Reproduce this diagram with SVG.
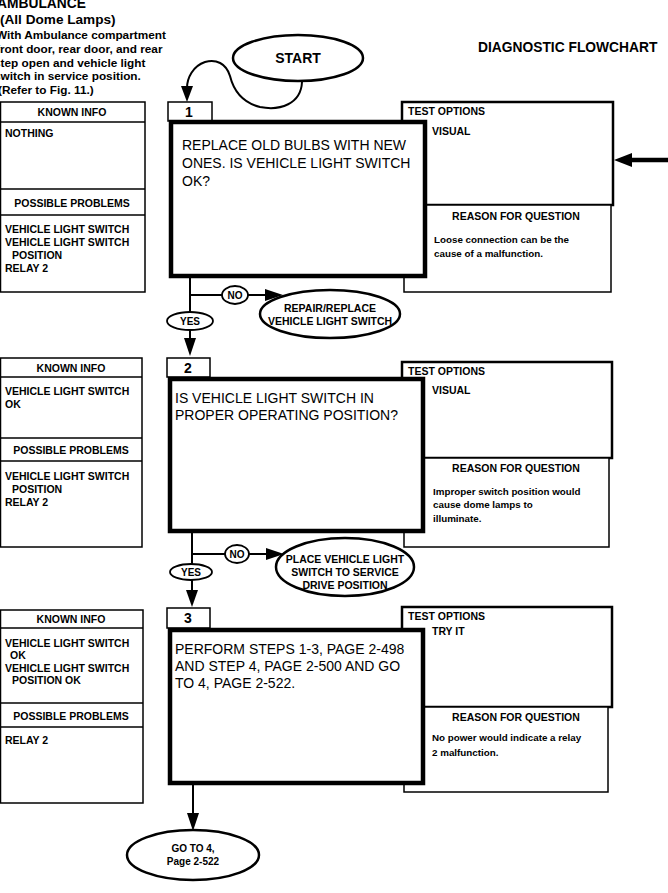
<svg xmlns="http://www.w3.org/2000/svg" width="668" height="893" viewBox="0 0 668 893">
<style>
text{font-family:"Liberation Sans",Arial,sans-serif;fill:#000}
.b{font-weight:bold}
.sm{font-size:10.5px;font-weight:bold}
.it{font-size:10.5px;font-weight:bold}
.rs{font-size:9.8px;font-weight:bold}
.hl{font-size:11.8px;font-weight:bold}
.q{font-size:14px}
.c{text-anchor:middle}
.thin{fill:#fff;stroke:#000;stroke-width:1.5}
.med{fill:#fff;stroke:#000;stroke-width:2.5}
.thick{fill:#fff;stroke:#000;stroke-width:4.5}
.ln{fill:none;stroke:#000;stroke-width:2}
.lbl{fill:#fff;stroke:#000;stroke-width:1.8}
.sep{stroke:#000;stroke-width:1.5}
</style>
<rect width="668" height="893" fill="#fff"/>

<g id="header">
<text x="-3" y="8" class="b" font-size="13.8">AMBULANCE</text>
<text x="0" y="24" class="b" font-size="13.6">(All Dome Lamps)</text>
<text x="-4" y="39" class="hl">With Ambulance compartment</text>
<text x="-4" y="53" class="hl">front door, rear door, and rear</text>
<text x="-6" y="67" class="hl">step open and vehicle light</text>
<text x="-6" y="80" class="hl">switch in service position.</text>
<text x="-2" y="94" class="hl">(Refer to Fig. 11.)</text>
<text x="478" y="52" class="b" font-size="13.8">DIAGNOSTIC FLOWCHART</text>
</g>

<g id="start">
<ellipse cx="298" cy="58" rx="65" ry="23" fill="#fff" stroke="#000" stroke-width="2.5"/>
<text x="298" y="63" class="b c" font-size="14">START</text>
</g>

<!-- Step 1 -->
<g id="info1">
<rect x="0.5" y="102" width="144.5" height="190" class="thin"/>
<line x1="0" y1="122" x2="145" y2="122" class="sep"/>
<line x1="0" y1="189" x2="145" y2="189" class="sep"/>
<line x1="0" y1="215" x2="145" y2="215" class="sep"/>
<text x="72" y="116" class="sm c">KNOWN INFO</text>
<text x="5" y="137" class="it">NOTHING</text>
<text x="72" y="207" class="sm c">POSSIBLE PROBLEMS</text>
<text x="5" y="233" class="it">VEHICLE LIGHT SWITCH</text>
<text x="5" y="246" class="it">VEHICLE LIGHT SWITCH</text>
<text x="12" y="259" class="it">POSITION</text>
<text x="5" y="272" class="it">RELAY 2</text>
</g>
<g id="test1">
<rect x="402" y="102" width="211" height="103" class="med"/>
<rect x="404" y="205" width="207" height="87" class="thin"/>
<text x="408" y="115" class="sm">TEST OPTIONS</text>
<text x="432" y="135" class="sm">VISUAL</text>
<text x="516" y="220" class="sm c">REASON FOR QUESTION</text>
<text x="434" y="243" class="rs">Loose connection can be the</text>
<text x="434" y="257" class="rs">cause of a malfunction.</text>
</g>
<g id="step1">
<rect x="168" y="102" width="44" height="19" class="thin"/>
<text x="189" y="117" class="b c" font-size="14">1</text>
<rect x="171" y="122" width="254" height="154" class="thick"/>
<text x="182" y="150" class="q">REPLACE OLD BULBS WITH NEW</text>
<text x="182" y="168" class="q">ONES. IS VEHICLE LIGHT SWITCH</text>
<text x="182" y="186" class="q">OK?</text>
</g>
<g id="repair">
<ellipse cx="330" cy="314" rx="70" ry="24" fill="#fff" stroke="#000" stroke-width="2.5"/>
<text x="330" y="312" class="sm c">REPAIR/REPLACE</text>
<text x="330" y="325" class="sm c">VEHICLE LIGHT SWITCH</text>
</g>

<!-- Step 2 -->
<g id="info2">
<rect x="0.5" y="358" width="141.5" height="189" class="thin"/>
<line x1="0" y1="377" x2="142" y2="377" class="sep"/>
<line x1="0" y1="438" x2="142" y2="438" class="sep"/>
<line x1="0" y1="461" x2="142" y2="461" class="sep"/>
<text x="71" y="372" class="sm c">KNOWN INFO</text>
<text x="5" y="395" class="it">VEHICLE LIGHT SWITCH</text>
<text x="5" y="408" class="it">OK</text>
<text x="71" y="454" class="sm c">POSSIBLE PROBLEMS</text>
<text x="5" y="480" class="it">VEHICLE LIGHT SWITCH</text>
<text x="12" y="493" class="it">POSITION</text>
<text x="5" y="506" class="it">RELAY 2</text>
</g>
<g id="test2">
<rect x="402" y="362" width="210" height="96" class="med"/>
<rect x="404" y="458" width="205" height="89" class="thin"/>
<text x="408" y="375" class="sm">TEST OPTIONS</text>
<text x="432" y="394" class="sm">VISUAL</text>
<text x="516" y="472" class="sm c">REASON FOR QUESTION</text>
<text x="433" y="495" class="rs">Improper switch position would</text>
<text x="433" y="508" class="rs">cause dome lamps to</text>
<text x="433" y="522" class="rs">illuminate.</text>
</g>
<g id="step2">
<rect x="167" y="358" width="43" height="19" class="thin"/>
<text x="188" y="373" class="b c" font-size="14">2</text>
<rect x="170" y="379" width="253" height="152" class="thick"/>
<text x="175" y="403" class="q">IS VEHICLE LIGHT SWITCH IN</text>
<text x="175" y="420" class="q">PROPER OPERATING POSITION?</text>
</g>
<g id="place">
<ellipse cx="345" cy="567" rx="69" ry="29" fill="#fff" stroke="#000" stroke-width="2.5"/>
<text x="345" y="563" class="sm c">PLACE VEHICLE LIGHT</text>
<text x="345" y="576" class="sm c">SWITCH TO SERVICE</text>
<text x="345" y="589" class="sm c">DRIVE POSITION</text>
</g>

<!-- Step 3 -->
<g id="info3">
<rect x="0.5" y="610" width="142.5" height="193" class="thin"/>
<line x1="0" y1="628" x2="143" y2="628" class="sep"/>
<line x1="0" y1="703" x2="143" y2="703" class="sep"/>
<line x1="0" y1="727" x2="143" y2="727" class="sep"/>
<text x="71" y="623" class="sm c">KNOWN INFO</text>
<text x="5" y="647" class="it">VEHICLE LIGHT SWITCH</text>
<text x="10" y="659" class="it">OK</text>
<text x="5" y="672" class="it">VEHICLE LIGHT SWITCH</text>
<text x="12" y="684" class="it">POSITION OK</text>
<text x="71" y="720" class="sm c">POSSIBLE PROBLEMS</text>
<text x="5" y="744" class="it">RELAY 2</text>
</g>
<g id="test3">
<rect x="402" y="607" width="210" height="100" class="med"/>
<rect x="404" y="707" width="204" height="85" class="thin"/>
<text x="408" y="620" class="sm">TEST OPTIONS</text>
<text x="432" y="635" class="sm">TRY IT</text>
<text x="516" y="721" class="sm c">REASON FOR QUESTION</text>
<text x="432" y="741" class="rs">No power would indicate a relay</text>
<text x="432" y="756" class="rs">2 malfunction.</text>
</g>
<g id="step3">
<rect x="167" y="608" width="43" height="20" class="thin"/>
<text x="188" y="623" class="b c" font-size="14">3</text>
<rect x="170" y="630" width="253" height="153" class="thick"/>
<text x="175" y="654" class="q">PERFORM STEPS 1-3, PAGE 2-498</text>
<text x="175" y="671" class="q">AND STEP 4, PAGE 2-500 AND GO</text>
<text x="175" y="688" class="q">TO 4, PAGE 2-522.</text>
</g>
<g id="goto">
<ellipse cx="193" cy="855" rx="66" ry="25" fill="#fff" stroke="#000" stroke-width="2.5"/>
<text x="193" y="852" class="b c" font-size="10">GO TO 4,</text>
<text x="193" y="865" class="b c" font-size="10">Page 2-522</text>
</g>

<g id="connectors">
<path d="M302,82 C301,104 280,111 260,107 C240,102 233,88 230,76 C226,63 216,59 205,62 C193,66 187,78 187,88" class="ln"/>
<path d="M181,86 L193,86 L187,102 Z" fill="#000"/>
<line x1="190" y1="278" x2="190" y2="340" class="ln"/>
<path d="M184,338 L196,338 L190,356 Z" fill="#000"/>
<line x1="190" y1="295" x2="266" y2="295" class="ln"/>
<path d="M265,289 L283,295 L265,301 Z" fill="#000"/>
<ellipse cx="235" cy="295" rx="13" ry="9" class="lbl"/>
<text x="235" y="299" class="b c" font-size="10">NO</text>
<ellipse cx="190" cy="321" rx="23" ry="9" class="lbl"/>
<text x="190" y="325" class="b c" font-size="10">YES</text>
<line x1="192" y1="533" x2="192" y2="592" class="ln"/>
<path d="M186,590 L198,590 L192,607 Z" fill="#000"/>
<line x1="192" y1="554" x2="268" y2="554" class="ln"/>
<path d="M266,548 L284,554 L266,560 Z" fill="#000"/>
<ellipse cx="237" cy="554" rx="12" ry="9" class="lbl"/>
<text x="237" y="558" class="b c" font-size="10">NO</text>
<ellipse cx="191" cy="572" rx="21" ry="8" class="lbl"/>
<text x="191" y="576" class="b c" font-size="10">YES</text>
<line x1="193" y1="785" x2="193" y2="816" class="ln"/>
<path d="M187,813 L199,813 L193,831 Z" fill="#000"/>
<line x1="668" y1="160" x2="628" y2="160" stroke="#000" stroke-width="4.5"/>
<path d="M632,153 L614,160 L632,167 Z" fill="#000"/>
</g>
</svg>
